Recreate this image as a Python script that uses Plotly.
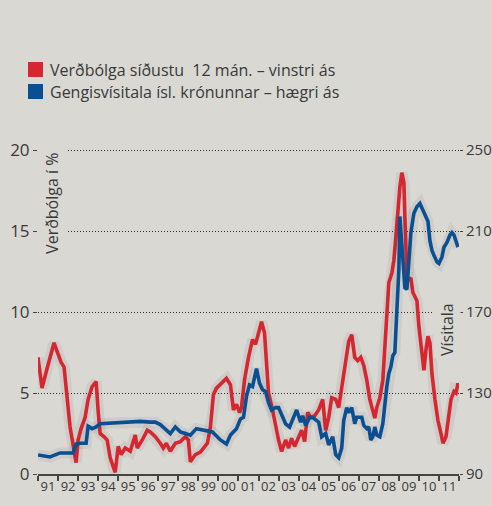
import plotly.graph_objects as go

# Verðbólga (12-month inflation, %), left axis
infl_x = [1991.00, 1991.20, 1991.45, 1991.80, 1992.15, 1992.30, 1992.60, 1992.90, 1993.00, 1993.15,
          1993.35, 1993.50, 1993.70, 1993.90, 1994.00, 1994.10, 1994.30, 1994.45, 1994.60, 1994.85,
          1995.00, 1995.15, 1995.35, 1995.60, 1995.85, 1995.95, 1996.20, 1996.45, 1996.60, 1996.85,
          1997.10, 1997.25, 1997.40, 1997.60, 1997.85, 1998.10, 1998.35, 1998.50, 1998.60, 1998.85,
          1999.10, 1999.45, 1999.60, 1999.75, 1999.90, 2000.20, 2000.40, 2000.60, 2000.75, 2000.90,
          2001.05, 2001.15, 2001.30, 2001.50, 2001.70, 2001.85, 2002.00, 2002.15, 2002.30, 2002.40,
          2002.50, 2002.70, 2002.85, 2003.00, 2003.15, 2003.35, 2003.50, 2003.65, 2003.80, 2004.00,
          2004.15, 2004.30, 2004.45, 2004.60, 2004.80, 2005.00, 2005.20, 2005.35, 2005.50, 2005.65,
          2005.85, 2006.00, 2006.20, 2006.35, 2006.50, 2006.65, 2006.80, 2006.95, 2007.10, 2007.25,
          2007.40, 2007.55, 2007.70, 2007.80, 2007.90, 2008.05, 2008.20, 2008.30, 2008.40, 2008.50,
          2008.65, 2008.75, 2008.85, 2008.95, 2009.05, 2009.15, 2009.25, 2009.30, 2009.40, 2009.50,
          2009.60, 2009.70, 2009.80, 2009.90, 2010.00, 2010.15, 2010.25, 2010.35, 2010.45, 2010.55,
          2010.65, 2010.80, 2010.95, 2011.10, 2011.20, 2011.35, 2011.50, 2011.60, 2011.75, 2011.85,
          2011.95, 2012.00]
infl_y = [7.2, 5.3, 6.5, 8.1, 6.9, 6.6, 2.9, 0.7, 2.1, 2.8,
          3.5, 4.6, 5.4, 5.7, 3.9, 2.5, 2.3, 2.1, 1.0, 0.1,
          1.7, 1.2, 1.6, 1.4, 2.4, 1.6, 2.1, 2.7, 2.6, 2.3,
          1.9, 1.6, 1.9, 1.4, 1.9, 2.0, 2.3, 2.1, 0.75, 1.2,
          1.35, 1.9, 2.9, 4.9, 5.3, 5.7, 5.9, 5.5, 3.95, 4.3,
          3.8, 4.1, 5.8, 7.2, 8.3, 8.0, 8.7, 9.4, 8.7, 6.6,
          5.0, 3.95, 3.0, 2.1, 1.4, 2.1, 1.6, 2.2, 1.7, 2.3,
          2.7, 2.0, 3.8, 3.5, 3.6, 3.95, 4.6, 2.7, 3.5, 4.7,
          4.6, 4.1, 5.8, 7.3, 8.2, 8.6, 7.2, 7.0, 7.2, 6.7,
          5.8, 4.6, 3.8, 3.45, 4.1, 4.7, 5.8, 7.8, 9.9, 11.8,
          12.4, 13.2, 14.6, 16.5, 17.7, 18.6, 18.0, 15.9, 12.2, 12.0,
          12.1, 11.2, 10.9, 10.7, 9.1, 7.5, 6.4, 7.65, 8.5, 8.1,
          6.2, 4.6, 3.3, 2.5, 1.9, 2.3, 3.5, 4.6, 5.1, 5.0,
          5.6, 5.3]

# Gengisvísitala (exchange-rate index), right axis
fx_x = [1991.00, 1991.30, 1991.60, 1992.10, 1992.50, 1992.75, 1992.90, 1993.10, 1993.40, 1993.50,
        1993.70, 1993.90, 1994.10, 1994.60, 1995.10, 1995.60, 1996.10, 1996.60, 1996.85, 1997.10,
        1997.35, 1997.60, 1997.85, 1998.10, 1998.35, 1998.60, 1998.90, 1999.35, 1999.70, 2000.10,
        2000.40, 2000.60, 2000.90, 2001.10, 2001.25, 2001.40, 2001.55, 2001.70, 2001.90, 2002.05,
        2002.20, 2002.35, 2002.50, 2002.65, 2002.85, 2003.00, 2003.20, 2003.35, 2003.55, 2003.75,
        2003.90, 2004.10, 2004.20, 2004.35, 2004.55, 2004.75, 2005.00, 2005.15, 2005.35, 2005.50,
        2005.70, 2005.85, 2006.00, 2006.15, 2006.25, 2006.40, 2006.50, 2006.65, 2006.80, 2006.90,
        2007.15, 2007.25, 2007.40, 2007.50, 2007.60, 2007.70, 2007.80, 2007.90, 2008.05, 2008.20,
        2008.30, 2008.40, 2008.50, 2008.60, 2008.70, 2008.80, 2008.90, 2009.00, 2009.05, 2009.15,
        2009.25, 2009.30, 2009.40, 2009.50, 2009.60, 2009.75, 2009.90, 2010.05, 2010.15, 2010.30,
        2010.45, 2010.55, 2010.65, 2010.75, 2010.90, 2011.00, 2011.15, 2011.25, 2011.40, 2011.55,
        2011.65, 2011.75, 2011.85, 2011.95]
fx_y = [99.4, 98.8, 98.4, 100.4, 100.4, 100.4, 104.8, 105.2, 105.2, 113.6,
        112.4, 113.2, 114.8, 115.2, 115.6, 115.6, 116.0, 115.6, 115.6, 114.4,
        112.4, 110.0, 113.2, 110.8, 110.0, 109.2, 112.4, 111.6, 110.8, 106.8,
        104.8, 109.2, 112.4, 117.2, 118.0, 128.4, 134.0, 133.2, 142.0, 134.8,
        131.6, 130.8, 125.2, 121.6, 122.8, 122.8, 118.8, 114.8, 113.2, 118.0,
        121.6, 115.6, 118.8, 114.0, 118.0, 117.6, 115.6, 108.4, 110.0, 104.4,
        108.4, 99.6, 98.0, 102.8, 116.4, 122.8, 120.4, 122.8, 114.8, 118.0,
        118.0, 114.0, 112.4, 113.2, 106.8, 108.4, 113.2, 109.2, 108.4, 114.8,
        125.2, 133.2, 139.6, 142.8, 148.4, 150.0, 170.8, 190.8, 217.2, 205.2,
        190.8, 182.0, 181.2, 195.6, 209.2, 218.8, 222.0, 223.6, 221.2, 218.0,
        214.8, 205.2, 200.4, 198.0, 194.8, 194.0, 197.2, 202.0, 204.4, 208.0,
        209.2, 208.0, 205.2, 202.0]

series_names = ["Verðbólga síðustu  12 mán. – vinstri ás",
                "Gengisvísitala ísl. krónunnar – hægri ás"]
year_ticks = [1991.5 + i for i in range(21)]
year_labels = ["91", "92", "93", "94", "95", "96", "97", "98", "99", "00", "01",
               "02", "03", "04", "05", "06", "07", "08", "09", "10", "11"]
left_ticks = [0, 5, 10, 15, 20]
right_ticks = [90, 130, 170, 210, 250]

RED = "#d7262f"
BLUE = "#0b4f93"
BG = "#d9d8d3"
TXT = "#3a3a3a"
SHADOW = "rgba(60,60,60,0.07)"
FONT = "Open Sans"

fig = go.Figure()
# soft shadows under the lines
fig.add_trace(go.Scatter(x=infl_x, y=infl_y, mode="lines", yaxis="y",
                         line=dict(color=SHADOW, width=11), hoverinfo="skip",
                         showlegend=False))
fig.add_trace(go.Scatter(x=infl_x, y=infl_y, mode="lines", yaxis="y",
                         line=dict(color=RED, width=3.6), name=series_names[0],
                         showlegend=False))
fig.add_trace(go.Scatter(x=fx_x, y=fx_y, mode="lines", yaxis="y2",
                         line=dict(color=SHADOW, width=11), hoverinfo="skip",
                         showlegend=False))
fig.add_trace(go.Scatter(x=fx_x, y=fx_y, mode="lines", yaxis="y2",
                         line=dict(color=BLUE, width=3.6), name=series_names[1],
                         showlegend=False))

# Plot area: 0 at y=474px, 20 at y=150px (16.2 px per unit); top margin 147px
# Legend (swatch + label) placed above the plot area, in paper units of the 327px-tall area
PH = 327.0
def py(pix):
    return (474 - pix) / PH

legend_shapes = []
legend_annots = []
for i, (name, col) in enumerate(zip(series_names, [RED, BLUE])):
    top_px = 62 + i * 22
    legend_shapes.append(dict(type="rect", xref="paper", yref="paper",
                              x0=-0.0238, x1=0.0119, y0=py(top_px + 15), y1=py(top_px),
                              fillcolor=col, line=dict(width=0)))
    legend_annots.append(dict(text=name, xref="paper", yref="paper",
                              x=0.0238, y=py(top_px + 7.5), xanchor="left", yanchor="middle",
                              showarrow=False, font=dict(size=16, color=TXT)))

fig.update_layout(
    width=492, height=506,
    margin=dict(l=38, r=33, t=147, b=32, autoexpand=False),
    paper_bgcolor=BG, plot_bgcolor=BG,
    font=dict(family=FONT, color=TXT),
    showlegend=False,
    xaxis=dict(range=[1991, 2012], tickvals=year_ticks, ticktext=year_labels,
               ticks="", showgrid=False, zeroline=False,
               showline=True, linecolor="#444444", linewidth=1.5,
               tickfont=dict(size=13, color=TXT),
               minor=dict(tick0=1991, dtick=1, ticks="outside", ticklen=5,
                          tickcolor="#444444", tickwidth=1.5, showgrid=False)),
    yaxis=dict(range=[0, 20.185], tickvals=left_ticks, ticks="outside", ticklen=4,
               tickcolor="#444444", showgrid=True, gridcolor="#2e2e2e",
               griddash="1px,2px", gridwidth=1, zeroline=False, showline=False,
               tickfont=dict(size=17, color=TXT)),
    yaxis2=dict(range=[90, 251.48], tickvals=right_ticks, overlaying="y", side="right",
                ticks="outside", ticklen=3, tickcolor="#444444", showgrid=False,
                zeroline=False, showline=False, tickfont=dict(size=15, color=TXT)),
    shapes=legend_shapes,
    annotations=legend_annots + [
        dict(text="Verðbólga í %", textangle=-90, xref="paper", yref="paper",
             x=0.033, y=py(203), xanchor="center", yanchor="middle",
             showarrow=False, font=dict(size=16, color=TXT),
             bgcolor=BG, borderpad=3),
        dict(text="Vísitala", textangle=-90, xref="paper", yref="paper",
             x=0.9715, y=py(330), xanchor="center", yanchor="middle",
             showarrow=False, font=dict(size=16, color=TXT),
             bgcolor=BG, borderpad=2),
    ],
)

fig.write_html("out.html", config={"displayModeBar": False},
               post_script="document.body.style.margin='0';"
                           "document.body.style.background='" + BG + "';")
